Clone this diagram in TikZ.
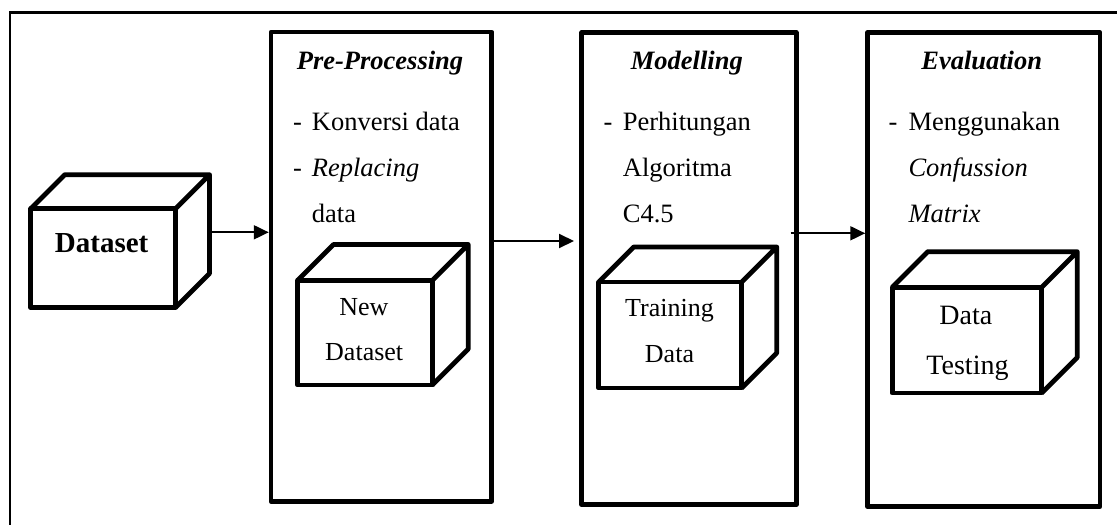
\documentclass[tikz,border=0pt]{standalone}
\usepackage{fontspec}
\setmainfont{Liberation Serif}
\usetikzlibrary{arrows.meta,calc}
\newcommand\cubefaces[2]{%
  \draw[cubeline] (#1.north west) -- ++(#2,-#2) -- ($(#1.north east)+(#2,-#2)$)
    -- ($(#1.south east)+(#2,-#2)$) -- (#1.south east)
    (#1.north east) -- ++(#2,-#2);}
\begin{document}
\begin{tikzpicture}[x=1pt,y=-1pt,
  stage/.style={draw, line width=4.5pt, line join=round, inner sep=0pt},
  face/.style={draw, line width=4.8pt, line join=round, inner sep=0pt, outer sep=0pt},
  cubeline/.style={line width=4.8pt, line join=round},
  arr/.style={line width=2pt, -{Triangle[length=15pt,width=14pt]}},
  ttl/.style={anchor=base, inner sep=0pt, font=\fontsize{26.5}{30}\selectfont\bfseries\itshape},
  txt/.style={anchor=base west, inner sep=0pt, font=\fontsize{26.5}{30}\selectfont},
  ctxt/.style={anchor=base, inner sep=0pt, font=\fontsize{26}{30}\selectfont}]
\useasboundingbox (0,0) rectangle (1117,525);
\clip (0,0) rectangle (1117,525);
\draw[line width=2.2pt] (9.7,12.5) rectangle (1130,540);

% stage boxes
\node[stage, minimum width=220.7pt, minimum height=469.3pt] (pre) at (381.35,266.65) {};
\node[stage, minimum width=214.6pt, minimum height=472.2pt] (mod) at (689,268.6) {};
\node[stage, minimum width=232.5pt, minimum height=474.2pt] (eva) at (983.75,269.6) {};

% titles
\node[ttl] (tpre) at (380,69) {Pre-Processing};
\node[ttl] (tmod) at (686.8,69) {Modelling};
\node[ttl] (teva) at (981.7,69) {Evaluation};

% pre-processing list
\node[txt] (p1d) at (293,130) {-};
\node[txt] (p1) at (311.7,130) {Konversi data};
\node[txt] (p2d) at (293,176) {-};
\node[txt] (p2) at (311.7,176) {\itshape Replacing};
\node[txt] (p3) at (311.7,222) {data};

% modelling list
\node[txt] (m1d) at (603.3,130) {-};
\node[txt] (m1) at (622.7,130) {Perhitungan};
\node[txt] (m2) at (622.7,176) {Algoritma};
\node[txt] (m3) at (622.7,222) {C4.5};

% evaluation list
\node[txt] (e1d) at (888.3,130) {-};
\node[txt] (e1) at (908.3,130) {Menggunakan};
\node[txt] (e2) at (908.3,176) {\itshape Confussion};
\node[txt] (e3) at (908.3,222) {\itshape Matrix};

% cubes
\node[face, minimum width=144.7pt, minimum height=98.8pt] (ds) at (103.15,258.1) {};
\cubefaces{ds}{34}
\node[anchor=base, inner sep=0pt, font=\fontsize{29}{32}\selectfont\bfseries] (tds) at (101.7,252) {Dataset};

\node[face, minimum width=134.7pt, minimum height=104.5pt] (nds) at (364.85,332.75) {};
\cubefaces{nds}{36}
\node[ctxt] (tnds1) at (363.8,315) {New};
\node[ctxt] (tnds2) at (364.2,360.7) {Dataset};

\node[face, minimum width=142.9pt, minimum height=106pt] (trd) at (670.25,335) {};
\cubefaces{trd}{35}
\node[ctxt] (ttrd1) at (669.5,316.7) {Training};
\node[ctxt] (ttrd2) at (669.5,362.3) {Data};

\node[face, minimum width=149.5pt, minimum height=105.8pt] (dts) at (966.95,340.1) {};
\cubefaces{dts}{35.5}
\node[anchor=base, inner sep=0pt, font=\fontsize{28}{32}\selectfont] (tdts1) at (965.8,324) {Data};
\node[anchor=base, inner sep=0pt, font=\fontsize{28}{32}\selectfont] (tdts2) at (967.5,374) {Testing};

% connectors
\coordinate (a1s) at (211.9,232.3);
\draw[arr] (a1s) -- (pre.west |- a1s);
\coordinate (a2e) at (574,241);
\draw[arr] (pre.east |- a2e) -- (a2e);
\coordinate (a3s) at (790.7,233.3);
\draw[arr] (a3s) -- (eva.west |- a3s);
\end{tikzpicture}
\end{document}
